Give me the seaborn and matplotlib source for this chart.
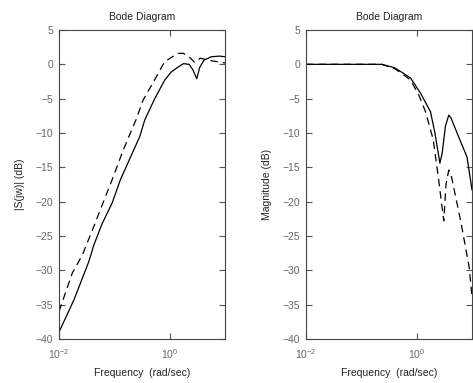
import numpy as np
import pandas as pd
import matplotlib
matplotlib.use("Agg")
import matplotlib.pyplot as plt
import seaborn as sns

# log10(frequency) and magnitude in dB
s_solid_logw = [-2.0, -1.73, -1.46, -1.37, -1.22, -1.04, -0.89, -0.54, -0.45,
                -0.27, -0.09, 0.03, 0.17, 0.25, 0.35, 0.42, 0.49, 0.54, 0.62,
                0.75, 0.90, 1.0]
s_solid_db = [-39.0, -34.3, -28.7, -26.3, -23.2, -20.2, -16.8, -10.5, -8.1,
              -5.0, -2.3, -1.1, -0.3, 0.1, 0.0, -0.8, -2.1, -0.5, 0.6,
              1.1, 1.2, 1.1]
s_dash_logw = [-2.0, -1.76, -1.58, -1.37, -1.22, -1.04, -0.84, -0.61, -0.48,
               -0.24, -0.09, 0.15, 0.25, 0.35, 0.45, 0.50, 0.55, 0.70, 1.0]
s_dash_db = [-36.0, -30.4, -27.8, -23.6, -20.5, -16.8, -12.5, -8.1, -5.2,
             -1.8, 0.4, 1.6, 1.6, 1.1, 0.3, 0.5, 0.9, 0.6, 0.2]

t_solid_logw = [-2.0, -1.0, -0.63, -0.40, -0.24, -0.11, 0.07, 0.25, 0.33,
                0.42, 0.46, 0.52, 0.58, 0.62, 0.73, 0.91, 1.0]
t_solid_db = [0.0, 0.0, 0.0, -0.5, -1.3, -2.0, -4.2, -6.9, -10.0,
              -14.4, -13.0, -9.0, -7.4, -7.8, -10.0, -13.5, -18.3]
t_dash_logw = [-2.0, -1.0, -0.63, -0.40, -0.24, -0.11, 0.04, 0.16, 0.30,
               0.40, 0.49, 0.53, 0.58, 0.62, 0.80, 0.95, 1.0]
t_dash_db = [0.0, 0.0, 0.0, -0.6, -1.5, -2.3, -4.5, -6.9, -11.0,
             -17.0, -22.8, -17.5, -15.4, -16.0, -23.0, -29.6, -33.9]

titles = ["Bode Diagram", "Bode Diagram"]
ylabels = ["|S(jw)| (dB)", "Magnitude (dB)"]

sns.set_style("white")
plt.rcParams['font.family'] = ['Liberation Sans', 'DejaVu Sans']
plt.rcParams['mathtext.fontset'] = 'custom'
plt.rcParams['mathtext.rm'] = 'Liberation Sans'
plt.rcParams['mathtext.it'] = 'Liberation Sans'

W, H = 473, 383
fig = plt.figure(figsize=(W / 100, H / 100), dpi=100)
ax1 = fig.add_axes([59 / W, 1 - 339 / H, 166 / W, 309 / H])
ax2 = fig.add_axes([306 / W, 1 - 339 / H, 166 / W, 309 / H])

panels = [
    (ax1, s_solid_logw, s_solid_db, s_dash_logw, s_dash_db),
    (ax2, t_solid_logw, t_solid_db, t_dash_logw, t_dash_db),
]

for i, (ax, xs, ys, xd, yd) in enumerate(panels):
    solid = pd.DataFrame({"w": 10 ** np.array(xs), "db": ys})
    dash = pd.DataFrame({"w": 10 ** np.array(xd), "db": yd})
    sns.lineplot(data=solid, x="w", y="db", ax=ax, color="black", lw=0.9,
                 sort=False)
    sns.lineplot(data=dash, x="w", y="db", ax=ax, color="black", lw=0.9,
                 sort=False, linestyle=(0, (6, 4)))
    ax.set_xscale("log")
    ax.set_xlim(1e-2, 10)
    ax.set_ylim(-40, 5)
    ax.set_xticks([1e-2, 1e0])
    ax.set_xticklabels([r"$10^{-2}$", r"$10^{0}$"], fontsize=8)
    ax.minorticks_off()
    ax.set_yticks(range(-40, 6, 5))
    ax.tick_params(direction="in", length=4, width=0.8, colors="#555555",
                   labelcolor="#666666", labelsize=7.5, bottom=True,
                   left=True, top=True, right=True, pad=4)
    ax.tick_params(axis="x", pad=6)
    for sp in ax.spines.values():
        sp.set_color("#444444")
        sp.set_linewidth(0.8)
    ax.set_title(titles[i], fontsize=7.5, color="#222222", pad=7)
    ax.set_xlabel("Frequency  (rad/sec)", fontsize=7.5, color="#222222",
                  labelpad=5)
    ax.set_ylabel(ylabels[i], fontsize=7.5, color="#222222", labelpad=8)

fig.savefig("out.png", dpi=100)
